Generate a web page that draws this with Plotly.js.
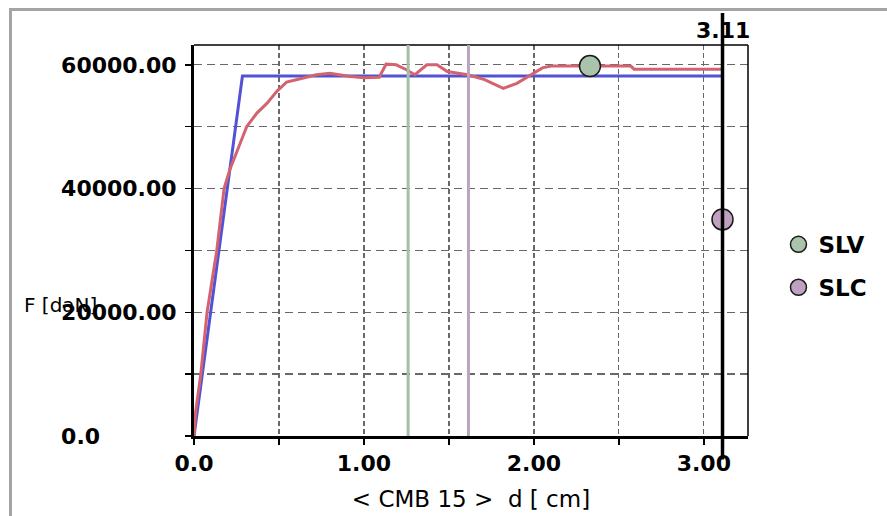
<!DOCTYPE html>
<html>
<head>
<meta charset="utf-8">
<script src="https://cdn.plot.ly/plotly-3.0.1.min.js"></script>
<style>
  html, body { margin: 0; padding: 0; background: #ffffff; }
  #wrap { position: relative; width: 887px; height: 516px; }
  #chart { width: 887px; height: 516px; }
  #frame { position: absolute; left: 9px; top: 8px; width: 900px; height: 600px;
           border-left: 3px solid #a4a4a4; border-top: 3px solid #a4a4a4; pointer-events: none; }
</style>
</head>
<body>
<div id="wrap">
  <div id="chart"></div>
  <div id="frame"></div>
</div>
<script>
// ---- data ----
const bilinearX = [0, 0.285, 3.11];
const bilinearF = [0, 58200, 58200];

const pushoverX = [0, 0.01, 0.04, 0.077, 0.134, 0.177, 0.21, 0.25, 0.31, 0.37, 0.43, 0.49, 0.545, 0.62,
                   0.72, 0.80, 0.92, 1.00, 1.09, 1.13, 1.19, 1.25, 1.30, 1.37, 1.43, 1.49, 1.61, 1.71,
                   1.82, 1.90, 2.00, 2.05, 2.10, 2.30, 2.57, 2.59, 3.11];
const pushoverF = [0, 4000, 10000, 20000, 30000, 40000, 43000, 45700, 50000, 52200, 53800, 55800, 57200, 57700,
                   58400, 58650, 58100, 57900, 58000, 60100, 60000, 59200, 58400, 60000, 60000, 58900, 58400, 57600,
                   56200, 57000, 58650, 59500, 59800, 59800, 59800, 59300, 59300];

const slvPoint = {x: [2.33], y: [59800]};
const slcPoint = {x: [3.11], y: [35000]};

const limitLinesX = [1.26, 1.615];        // SLV, SLC displacement markers
const currentX = 3.11;                    // current displacement
const currentLabel = "3.11";

const xTickVals = [0, 0.5, 1, 1.5, 2, 2.5, 3];
const xTickText = ["0.0", "", "1.00", "", "2.00", "", "3.00"];
const yTickVals = [0, 10000, 20000, 30000, 40000, 50000, 60000];
const yTickText = ["0.0\u2007\u2007\u2007\u2007\u2007", "", "20000.00", "", "40000.00", "", "60000.00"];

const xTitle = "< CMB 15 >  d [ cm]";
const yTitle = "F [daN]";

// ---- styles ----
const tickFont = {family: "DejaVu Sans", size: 22, color: "#000000", weight: "bold"};
const blue = "#5252d4";
const red = "#d3646f";
const green = "#a9c4aa";
const purple = "#bfa2c2";

const traces = [
  {x: bilinearX, y: bilinearF, type: "scatter", mode: "lines",
   line: {color: blue, width: 3}, showlegend: false, hoverinfo: "skip"},
  {x: pushoverX, y: pushoverF, type: "scatter", mode: "lines",
   line: {color: red, width: 3}, showlegend: false, hoverinfo: "skip"},
  {x: slvPoint.x, y: slvPoint.y, type: "scatter", mode: "markers", name: "SLV",
   legendgroup: "a",
   marker: {color: green, size: 21, line: {color: "#1a1a1a", width: 1.5}}, cliponaxis: false},
  {x: slcPoint.x, y: slcPoint.y, type: "scatter", mode: "markers", name: "SLC",
   legendgroup: "b",
   marker: {color: purple, size: 21, line: {color: "#1a1a1a", width: 1.5}}, cliponaxis: false}
];

const shapes = [
  // top and right thin frame lines of the plot box
  {type: "line", xref: "paper", yref: "paper", x0: 0, x1: 1, y0: 1, y1: 1, line: {color: "#000", width: 1.5}},
  {type: "line", xref: "paper", yref: "paper", x0: 1, x1: 1, y0: 0, y1: 1, line: {color: "#000", width: 1.5}},
  {type: "line", xref: "x", yref: "paper", x0: limitLinesX[0], x1: limitLinesX[0], y0: 0, y1: 1,
   line: {color: "#a6bea6", width: 3}},
  {type: "line", xref: "x", yref: "paper", x0: limitLinesX[1], x1: limitLinesX[1], y0: 0, y1: 1,
   line: {color: "#b9a5bd", width: 3}},
  {type: "line", xref: "x", yref: "paper", x0: currentX, x1: currentX, y0: -0.06, y1: 1.082,
   line: {color: "#000", width: 3.5}}
];

const annotations = [
  {text: yTitle, xref: "paper", yref: "paper", x: -0.3105, y: 0.335, xanchor: "left", yanchor: "middle",
   showarrow: false, font: {family: "DejaVu Sans", size: 20, color: "#000"}},
  {text: currentLabel, xref: "x", yref: "paper", x: currentX, y: 1.038, xanchor: "center", yanchor: "middle",
   showarrow: false, font: tickFont}
];

const layout = {
  width: 887, height: 516,
  margin: {l: 194, r: 139, t: 45, b: 80},
  paper_bgcolor: "#ffffff", plot_bgcolor: "#ffffff",
  showlegend: true,
  legend: {x: 1.055, y: 0.545, xanchor: "left", yanchor: "top", tracegroupgap: 10,
           font: {family: "DejaVu Sans", size: 23, color: "#000", weight: "bold"},
           bgcolor: "rgba(0,0,0,0)", itemclick: false},
  xaxis: {
    range: [0, 3.26], tickmode: "array", tickvals: xTickVals, ticktext: xTickText,
    showgrid: true, gridcolor: "#686868", gridwidth: 1.3, griddash: "5px,3px",
    zeroline: false, showline: true, linecolor: "#000", linewidth: 3, mirror: false,
    ticks: "outside", ticklen: 6, tickwidth: 1.5, tickcolor: "#000",
    tickfont: tickFont, ticklabelstandoff: 0,
    title: {text: xTitle, font: {family: "DejaVu Sans", size: 23, color: "#000"}, standoff: 16}
  },
  yaxis: {
    range: [0, 63200], tickmode: "array", tickvals: yTickVals, ticktext: yTickText,
    showgrid: true, gridcolor: "#686868", gridwidth: 1.3, griddash: "8px,5px",
    zeroline: false, showline: true, linecolor: "#000", linewidth: 3, mirror: false,
    ticks: "outside", ticklen: 6, tickwidth: 1.5, tickcolor: "#000",
    tickfont: tickFont, ticklabelstandoff: 4
  },
  shapes: shapes,
  annotations: annotations
};

Plotly.newPlot("chart", traces, layout, {staticPlot: true, displayModeBar: false});
</script>
</body>
</html>
